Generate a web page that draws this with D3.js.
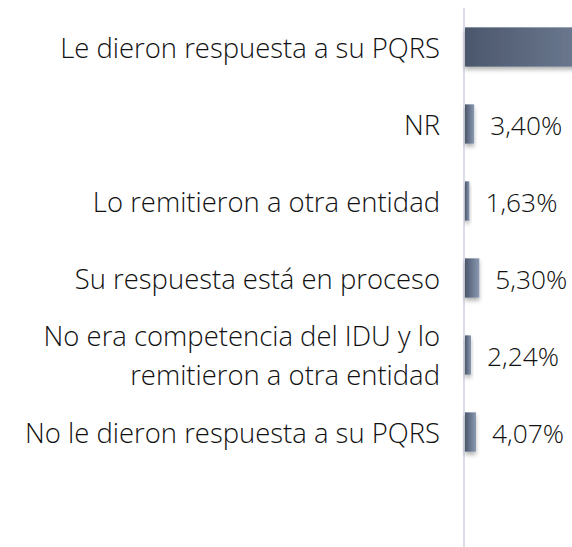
<!DOCTYPE html>
<html>
<head>
<meta charset="utf-8">
<script src="https://cdn.jsdelivr.net/npm/d3@7"></script>
<style>
html,body{margin:0;padding:0;background:#fff;}
svg{display:block;}
</style>
</head>
<body>
<svg id="chart" width="572" height="547"></svg>
<script>
const categories = [
  "Le dieron respuesta a su PQRS",
  "NR",
  "Lo remitieron a otra entidad",
  "Su respuesta está en proceso",
  "No era competencia del IDU y lo|remitieron a otra entidad",
  "No le dieron respuesta a su PQRS"
];
const values = [83.36, 3.40, 1.63, 5.30, 2.24, 4.07];
const valueLabels = ["83,36%", "3,40%", "1,63%", "5,30%", "2,24%", "4,07%"];

const svg = d3.select("#chart");
const W = 572, H = 547;
const axisX = 464;
const FONT = "'Open Sans', 'DejaVu Sans', sans-serif";
const WEIGHT = 300;

const defs = svg.append("defs");
const grad = defs.append("linearGradient").attr("id","barGrad")
  .attr("x1","0%").attr("x2","100%").attr("y1","0%").attr("y2","0%");
grad.append("stop").attr("offset","0%").attr("stop-color","#4b576c");
grad.append("stop").attr("offset","100%").attr("stop-color","#8a99b2");
const filt = defs.append("filter").attr("id","shadow")
  .attr("x","-20%").attr("y","-20%").attr("width","160%").attr("height","160%");
filt.append("feDropShadow").attr("dx",0).attr("dy",3).attr("stdDeviation",2)
  .attr("flood-color","#000").attr("flood-opacity",0.3);

const domain = categories.concat([""]);
const y = d3.scaleBand().domain(domain).range([8.5, 547.5])
  .paddingInner(0.49).paddingOuter(0.245);
const x = d3.scaleLinear().domain([0, 100]).range([axisX + 1, axisX + 1 + 270]);

function fitSize(str, target){
  const probe = svg.append("text").attr("font-family", FONT)
    .attr("font-weight", WEIGHT).attr("font-size", 100).text(str);
  const w = probe.node().getComputedTextLength();
  probe.remove();
  return 100 * target / w;
}
const fs = fitSize(categories[0], 380);
const fsv = fitSize(valueLabels[1], 72);
const lh = Math.ceil(fs * 1.37) + 1;

// axis line
svg.append("line").attr("x1", axisX).attr("x2", axisX)
  .attr("y1", 8).attr("y2", 547)
  .attr("stroke", "#d9dee6").attr("stroke-width", 2);

// bars
svg.append("g").selectAll("rect").data(values).join("rect")
  .attr("x", x(0))
  .attr("y", (d,i) => y(categories[i]))
  .attr("width", d => x(d) - x(0))
  .attr("height", y.bandwidth())
  .attr("fill", "url(#barGrad)")
  .attr("filter", "url(#shadow)");

// category labels (each line its own text element)
const lineData = [];
categories.forEach(c => {
  const lines = c.split("|");
  lines.forEach((ln, k) => {
    lineData.push({text: ln, cy: y(c) + y.bandwidth()/2 + (k - (lines.length-1)/2) * lh});
  });
});
svg.append("g").selectAll("text").data(lineData).join("text")
  .attr("text-anchor", "end")
  .attr("font-family", FONT)
  .attr("font-weight", WEIGHT)
  .attr("font-size", fs)
  .attr("fill", "#111")
  .attr("dominant-baseline", "central")
  .attr("x", 440)
  .attr("y", d => d.cy)
  .text(d => d.text);

// value labels (only those that fall inside the visible area)
const vis = values.map((v,i) => ({v, i})).filter(o => x(o.v) + 16 < W);
svg.append("g").selectAll("text").data(vis).join("text")
  .attr("font-family", FONT)
  .attr("font-weight", WEIGHT)
  .attr("font-size", fsv)
  .attr("fill", "#111")
  .attr("dominant-baseline", "central")
  .attr("x", o => x(o.v) + 16)
  .attr("y", o => y(categories[o.i]) + y.bandwidth()/2 + 1)
  .text(o => valueLabels[o.i]);
</script>
</body>
</html>
